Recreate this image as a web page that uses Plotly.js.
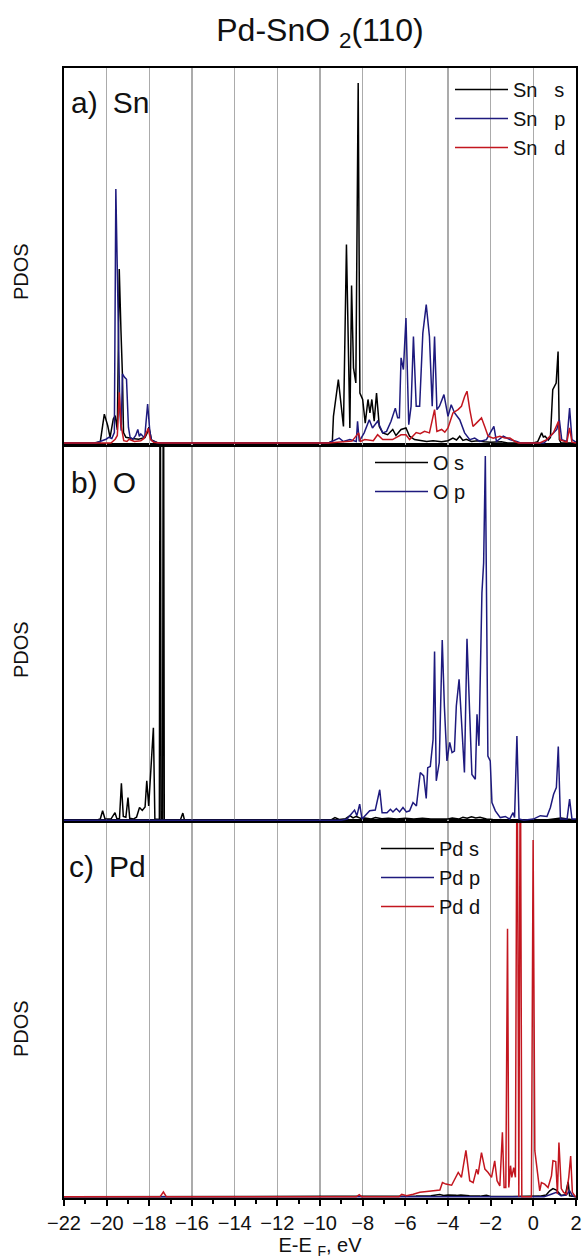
<!DOCTYPE html>
<html>
<head>
<meta charset="utf-8">
<script src="https://cdn.plot.ly/plotly-3.0.1.min.js"></script>
<style>html,body{margin:0;padding:0;background:#fff;}#chart{width:582px;height:1260px;}</style>
</head>
<body>
<div id="chart"></div>
<script>
// ---------- data (energies in eV, PDOS in arbitrary units, 0-100 = panel height) ----------
// Panel a) Sn
var snS_x = [-22, -20.6, -20.3, -20.11, -19.95, -19.84, -19.69, -19.6, -19.5, -19.41, -19.33, -19.26, -19.21, -19.1, -18.8, -18.5, -18.2, -18.09, -18.02, -17.9, -17.6, -9.6, -9.42, -9.37, -9.14, -8.9, -8.76, -8.6, -8.52, -8.43, -8.32, -8.21, -8.13, -8.0, -7.88, -7.75, -7.66, -7.57, -7.46, -7.35, -7.22, -7.06, -6.83, -6.59, -6.44, -6.2, -5.97, -5.8, -5.57, -5.3, -5.0, -4.7, -4.3, -4.0, -3.77, -3.6, -3.45, -3.3, -3.14, -2.9, -2.6, -2.3, -2.0, -1.5, -1.2, 0.0, 0.2, 0.39, 0.47, 0.55, 0.7, 0.8, 0.91, 1.07, 1.16, 1.22, 1.3, 2.0];
var snS_y = [0, 0, 0.3, 7.7, 4.6, 1.5, 6.4, 7.3, 3.5, 46.4, 30, 18, 2.8, 1.5, 1.2, 1, 1.5, 2.8, 4.2, 0.8, 0, 0, 0.5, 7.1, 16.9, 4.4, 52.9, 4, 42, 20, 16, 96, 13.3, 11.6, 5.3, 11.6, 8, 11.6, 5.8, 13.3, 4.4, 2.7, 2.2, 3.6, 2, 3.6, 4, 1.8, 0.9, 0.6, 0.4, 0.6, 0.3, 0.6, 1.3, 0.8, 1.8, 0.7, 1, 0.4, 0.6, 0.3, 0.2, 0.3, 0, 0, 0.3, 2.7, 1.6, 1.8, 0.8, 1.5, 14.2, 16, 24.4, 0.9, 0, 0];

var snP_x = [-22, -20.5, -20.03, -19.9, -19.76, -19.64, -19.57, -19.47, -19.38, -19.32, -19.26, -19.16, -19.07, -18.98, -18.9, -18.78, -18.64, -18.54, -18.47, -18.4, -18.32, -18.22, -18.08, -17.98, -17.9, -17.6, -9.6, -9.42, -9.1, -8.9, -8.6, -8.3, -8.24, -8.16, -7.93, -7.69, -7.54, -7.3, -7.06, -6.88, -6.67, -6.47, -6.36, -6.28, -6.2, -6.09, -5.97, -5.84, -5.73, -5.62, -5.49, -5.33, -5.18, -5.02, -4.87, -4.74, -4.63, -4.52, -4.4, -4.19, -4.0, -3.85, -3.69, -3.45, -3.22, -2.98, -2.75, -2.51, -2.2, -1.85, -1.73, -1.41, -1.1, -0.78, -0.6, 0.5, 0.78, 1.1, 1.22, 1.33, 1.57, 1.7, 1.81, 2.0];
var snP_y = [0, 0, 1, 1.5, 1.2, 2.8, 67.7, 34.8, 8.2, 3.3, 18.4, 17.5, 17, 4.2, 1.5, 0.9, 2, 3.6, 1.8, 2.4, 1.8, 1.3, 10.4, 3.3, 0.7, 0, 0, 0.4, 1.3, 0.4, 0.9, 0.4, 5.8, 0.4, 2.7, 6.2, 4, 5.8, 2.7, 3.1, 5.8, 9.3, 6.7, 6.7, 22.7, 19.6, 33.3, 4.9, 9.8, 28.4, 9.8, 9.8, 29.3, 36.9, 28.4, 9.8, 28.4, 8.9, 9.8, 12.9, 7.1, 10.2, 8, 6.2, 2.7, 0.9, 1.3, 0.4, 0.9, 4.4, 0.4, 1.8, 0.9, 0.4, 0, 0, 1.8, 3.6, 6.2, 0.9, 0.4, 9.3, 0.9, 0.2];

var snD_x = [-22, -19.8, -19.6, -19.5, -19.41, -19.32, -19.2, -19.05, -18.95, -18.7, -18.4, -18.25, -18.05, -17.95, -17.8, -17.5, -9.6, -9.0, -8.5, -8.19, -8.1, -7.9, -7.5, -7.3, -7.06, -6.6, -6.2, -5.97, -5.8, -5.49, -5.3, -5.1, -4.87, -4.63, -4.52, -4.3, -4.15, -4.0, -3.77, -3.53, -3.37, -3.22, -3.11, -2.98, -2.83, -2.67, -2.43, -2.28, -2.12, -1.88, -1.57, -1.33, -1.1, -0.86, -0.7, 0.3, 0.63, 0.94, 1.18, 1.25, 1.57, 1.7, 1.81, 2.0];
var snD_y = [0, 0, 1, 2, 13.5, 4.6, 0.6, 0.4, 1, 0.4, 0.6, 1.2, 3.9, 1, 0.2, 0, 0, 0.3, 0.5, 2.7, 0.4, 0.9, 0.6, 2.2, 0.9, 0.9, 2.2, 2.2, 0.9, 2.8, 2.5, 3.1, 2.7, 8.9, 3.1, 3.6, 2.9, 4, 8, 8.9, 9.8, 12.4, 13.8, 8.9, 4.4, 5.3, 6.7, 4.4, 1.8, 1.3, 1.8, 1.3, 1.3, 0.4, 0, 0, 0.9, 2.7, 5.8, 0.9, 0.2, 4, 0.2, 0];

// Panel b) O
var oS_x = [-22, -20.5, -20.3, -20.19, -20.08, -19.8, -19.61, -19.52, -19.4, -19.31, -19.22, -19.1, -19.0, -18.92, -18.75, -18.6, -18.46, -18.33, -18.2, -18.12, -18.03, -17.9, -17.81, -17.74, -17.6, -17.53, -17.49, -17.45, -17.38, -17.34, -17.3, -17.1, -16.55, -16.43, -16.35, -16.0, -9.5, -9.3, -9.1, -8.8, -8.6, -8.45, -8.3, -8.1, -7.9, -7.6, -7.4, -7.1, -6.8, -6.4, -6.0, -5.6, -5.2, -4.8, -4.4, -4.0, -3.8, -3.5, -3.3, -3.1, -2.9, -2.7, -2.5, -2.2, -1.9, -1.5, -1.0, -0.5, 0.5, 1.0, 1.3, 1.6, 2.0];
var oS_y = [0, 0, 0.3, 2.5, 0.4, 0.3, 2, 0.4, 0.4, 9.8, 1, 0.8, 6, 0.5, 0.3, 0.8, 3.4, 2.6, 3.5, 10.5, 3.8, 16.2, 24.6, 0.3, 0.2, 0.2, 150, 0.2, 0.2, 150, 0.2, 0, 0, 1.9, 0, 0, 0, 0.7, 0.2, 0.4, 1.2, 0.6, 1.0, 0.5, 0.6, 0.3, 0.7, 0.4, 0.5, 0.3, 0.5, 0.3, 0.5, 0.3, 0.4, 0.3, 0.6, 0.3, 0.8, 0.5, 0.9, 0.6, 0.8, 0.3, 0.2, 0.1, 0, 0, 0, 0.3, 0.6, 0.3, 0];

var oP_x = [-22, -9.0, -8.73, -8.5, -8.38, -8.27, -8.14, -8.03, -7.88, -7.67, -7.41, -7.2, -7.09, -6.86, -6.7, -6.58, -6.42, -6.27, -6.11, -5.95, -5.8, -5.64, -5.48, -5.3, -5.14, -5.02, -4.95, -4.83, -4.7, -4.63, -4.55, -4.41, -4.27, -4.17, -4.05, -3.92, -3.81, -3.7, -3.61, -3.48, -3.38, -3.23, -3.11, -2.98, -2.88, -2.72, -2.64, -2.55, -2.41, -2.33, -2.25, -2.13, -2.02, -1.94, -1.78, -1.55, -1.31, -1.11, -0.95, -0.88, -0.77, -0.67, -0.45, 0.0, 0.33, 0.64, 0.8, 0.95, 1.08, 1.17, 1.27, 1.58, 1.7, 1.81, 2.0];
var oP_y = [0, 0, 0.3, 2, 2.7, 1.2, 4.3, 0.3, 1.2, 2.5, 2.7, 8.1, 2, 2, 2.9, 2.2, 3.1, 2.2, 3.4, 2.2, 2.5, 4.7, 3.8, 12.7, 11.8, 5.8, 14, 14.3, 21.5, 44.9, 10.5, 15.3, 48, 30.4, 15.8, 20.7, 18, 18.4, 30.4, 37.5, 27.7, 12.7, 48.3, 25.1, 12.2, 10.9, 28.2, 19.8, 60.5, 68.5, 97, 17.1, 15.8, 4.7, 2.5, 0.7, 1, 0.3, 2, 0.7, 22.4, 0.3, 0, 0.3, 1.2, 1, 3.4, 6.9, 8.7, 19.6, 0.3, 0.3, 5.6, 0.3, 0.3];

// Panel c) Pd
var pdS_x = [-22, -6.2, -5.5, -4.8, -4.39, -4.2, -4.0, -3.6, -3.4, -3.0, -2.5, -2.2, -2.0, -1.0, 0.3, 0.6, 0.77, 0.92, 1.08, 1.3, 1.5, 1.63, 1.7, 2.0];
var pdS_y = [0, 0, 0.2, 0.3, 0.6, 0.4, 0.5, 0.4, 0.5, 0.3, 0.2, 0.4, 0.1, 0.1, 0.2, 0.5, 1.6, 2.2, 1.8, 0.4, 0.6, 4, 0.3, 0];

var pdP_x = [-22, 0.5, 0.84, 1.08, 1.3, 1.55, 1.7, 1.85, 2.0];
var pdP_y = [0, 0, 0.7, 1.2, 0.3, 0.5, 1.6, 0.2, 0];

var pdD_x = [-22, -17.5, -17.34, -17.2, -8.3, -8.16, -8.05, -6.3, -6.17, -5.94, -5.63, -5.32, -5.0, -4.69, -4.38, -4.26, -4.1, -3.83, -3.68, -3.52, -3.37, -3.16, -2.98, -2.82, -2.66, -2.59, -2.43, -2.27, -2.12, -1.96, -1.81, -1.7, -1.57, -1.45, -1.37, -1.29, -1.21, -1.15, -1.07, -1.01, -0.92, -0.84, -0.76, -0.68, -0.61, -0.54, -0.09, -0.01, 0.07, 0.22, 0.3, 0.38, 0.53, 0.69, 0.85, 0.92, 1.05, 1.13, 1.2, 1.31, 1.42, 1.55, 1.66, 1.75, 1.83, 1.94, 2.0];
var pdD_y = [0, 0, 1.3, 0, 0, 0.6, 0, 0, 0.7, 0.3, 0.7, 1.2, 1.4, 1.6, 1.8, 3.8, 3.4, 3.1, 4.7, 6.5, 5.2, 12.4, 4.3, 3.8, 7.4, 6.0, 11.8, 7.4, 6.5, 5.2, 9.6, 4.3, 2.9, 17.2, 2.5, 2.5, 71.4, 2.5, 8.3, 5.2, 7.8, 5.2, 130, 0, 130, 0, 0, 95, 12.3, 4.3, 1.6, 3.8, 3.4, 2.5, 5.6, 9.6, 9.4, 0.8, 14.5, 2.2, 1.2, 0.7, 5.2, 10.9, 1.2, 0.3, 0];

// ---------- text ----------
var chartTitle = 'Pd-SnO <sub>2</sub>(110)';
var xTitle = 'E-E <sub>F</sub>, eV';
var yLabel = 'PDOS';
var panelLabels = ['a)\u2002Sn', 'b)\u2002O', 'c)\u2002Pd'];
var snNames = ['Sn\u00a0\u00a0\u00a0s', 'Sn\u00a0\u00a0\u00a0p', 'Sn\u00a0\u00a0\u00a0d'];
var oNames = ['O s', 'O p'];
var pdNames = ['Pd s', 'Pd p', 'Pd d'];

// ---------- styling ----------
var FONT = 'Liberation Sans, Arial, Helvetica, sans-serif';
var BLACK = '#000000', BLUE = '#1e1a7e', RED = '#c3161f';
var LW = 1.5;

function tr(x, y, name, color, xa, ya, leg) {
  return {x: x, y: y, name: name, type: 'scatter', mode: 'lines',
          line: {color: color, width: LW}, xaxis: xa, yaxis: ya, legend: leg};
}

var data = [
  tr(snS_x, snS_y, snNames[0], BLACK, 'x3', 'y3', 'legend'),
  tr(snP_x, snP_y, snNames[1], BLUE, 'x3', 'y3', 'legend'),
  tr(snD_x, snD_y, snNames[2], RED, 'x3', 'y3', 'legend'),
  tr(oS_x, oS_y, oNames[0], BLACK, 'x2', 'y2', 'legend2'),
  tr(oP_x, oP_y, oNames[1], BLUE, 'x2', 'y2', 'legend2'),
  tr(pdS_x, pdS_y, pdNames[0], BLACK, 'x', 'y', 'legend3'),
  tr(pdP_x, pdP_y, pdNames[1], BLUE, 'x', 'y', 'legend3'),
  tr(pdD_x, pdD_y, pdNames[2], RED, 'x', 'y', 'legend3')
];

function xax(extra) {
  var a = {range: [-22, 2], dtick: 2, tick0: 0, showgrid: true, gridcolor: '#ababab', gridwidth: 1.2,
           zeroline: false, showline: true, mirror: true, linecolor: '#000', linewidth: 2,
           ticks: '', showticklabels: false, fixedrange: true};
  for (var k in extra) a[k] = extra[k];
  return a;
}
function yax(domain, lo) {
  return {domain: domain, range: [lo, 100], showgrid: false, zeroline: false, showline: true,
          mirror: true, linecolor: '#000', linewidth: 2, ticks: '', showticklabels: false, fixedrange: true};
}

var H = 1260, T = 68, B = 62, L = 64, R = 6;
var plotH = H - T - B;
function py(p) { return (H - B - p) / plotH; }   // pixel row -> paper y
function px(p) { return (p - L) / (582 - L - R); } // pixel col -> paper x

var legFont = {family: FONT, size: 20, color: '#111'};
function leg(x, y) {
  return {x: x, y: y, xanchor: 'left', yanchor: 'top', bgcolor: 'rgba(0,0,0,0)',
          borderwidth: 0, font: legFont, itemwidth: 53, tracegroupgap: 0};
}

var layout = {
  width: 582, height: 1260,
  margin: {l: L, r: R, t: T, b: B, pad: 0},
  paper_bgcolor: '#fff', plot_bgcolor: '#fff',
  font: {family: FONT, color: '#111'},
  showlegend: true,
  title: {text: chartTitle, font: {family: FONT, size: 32, color: '#111'},
          x: px(320), xref: 'paper', xanchor: 'center', y: 1 - 30 / H, yref: 'container', yanchor: 'middle'},
  xaxis: xax({anchor: 'y', ticks: 'outside', ticklen: 6, tickwidth: 2, tickcolor: '#000',
              showticklabels: true, tickfont: {family: FONT, size: 20, color: '#111'},
              minor: {dtick: 1, ticks: 'outside', ticklen: 4, tickwidth: 2, tickcolor: '#000', showgrid: false},
              title: {text: xTitle, font: {family: FONT, size: 20, color: '#111'}, standoff: 5}}),
  xaxis2: xax({anchor: 'y2', matches: 'x'}),
  xaxis3: xax({anchor: 'y3', matches: 'x'}),
  yaxis: yax([0, 1/3], -0.3),
  yaxis2: yax([1/3, 2/3], -0.3),
  yaxis3: yax([2/3, 1], -0.45),
  legend: leg(px(450), py(70)),
  legend2: leg(px(370), py(443)),
  legend3: leg(px(376), py(829)),
  annotations: [
    {text: panelLabels[0], xref: 'paper', yref: 'paper', x: px(69), y: py(102.5), xanchor: 'left', yanchor: 'middle', showarrow: false, font: {family: FONT, size: 30, color: '#111'}},
    {text: panelLabels[1], xref: 'paper', yref: 'paper', x: px(69), y: py(482.5), xanchor: 'left', yanchor: 'middle', showarrow: false, font: {family: FONT, size: 30, color: '#111'}},
    {text: panelLabels[2], xref: 'paper', yref: 'paper', x: px(67), y: py(866.5), xanchor: 'left', yanchor: 'middle', showarrow: false, font: {family: FONT, size: 30, color: '#111'}},
    {text: yLabel, xref: 'paper', yref: 'paper', x: px(21), y: py(272), xanchor: 'center', yanchor: 'middle', textangle: -90, showarrow: false, font: {family: FONT, size: 20, color: '#111'}},
    {text: yLabel, xref: 'paper', yref: 'paper', x: px(21), y: py(650), xanchor: 'center', yanchor: 'middle', textangle: -90, showarrow: false, font: {family: FONT, size: 20, color: '#111'}},
    {text: yLabel, xref: 'paper', yref: 'paper', x: px(21), y: py(1029), xanchor: 'center', yanchor: 'middle', textangle: -90, showarrow: false, font: {family: FONT, size: 20, color: '#111'}}
  ]
};

Plotly.newPlot('chart', data, layout, {staticPlot: true, displayModeBar: false});
</script>
</body>
</html>
